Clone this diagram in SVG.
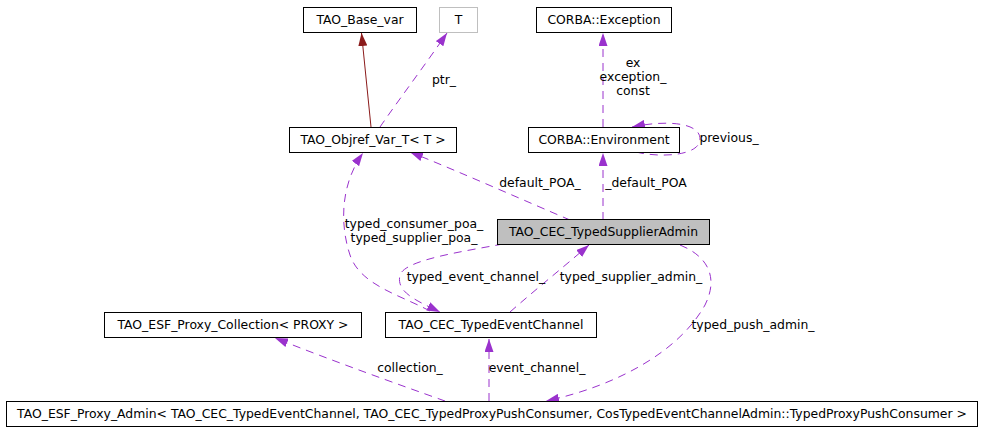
<svg xmlns="http://www.w3.org/2000/svg" width="981" height="432" viewBox="0 0 981 432">
<style>
text{font-family:"DejaVu Sans","Liberation Sans",sans-serif;font-size:12.4px;fill:#000}
.n text{text-anchor:middle}
.box{fill:#fff;stroke:#000;stroke-width:1}
.gray{fill:#bfbfbf}
.lt{stroke:#bfbfbf}
.e{fill:none;stroke:#9a32cd;stroke-width:1;stroke-dasharray:8,6}
.inh{fill:none;stroke:#8b1a1a;stroke-width:1}
.lbl text{text-anchor:middle}
</style>
<defs>
<marker id="ap" markerUnits="userSpaceOnUse" markerWidth="13" markerHeight="9" refX="13" refY="4.5" orient="auto"><path d="M0,0 L13,4.5 L0,9 z" fill="#9a32cd"/></marker>
<marker id="ar" markerUnits="userSpaceOnUse" markerWidth="13" markerHeight="9" refX="13" refY="4.5" orient="auto"><path d="M0,0 L13,4.5 L0,9 z" fill="#8b1a1a"/></marker>
</defs>
<rect width="981" height="432" fill="#fff"/>
<g id="connectors">
<path class="inh" d="M371,127 L361.5,33" marker-end="url(#ar)"/>
<path class="e" d="M380,127 C395,105 425,65 447,33" marker-end="url(#ap)"/>
<path class="e" d="M603,127 L603,33" marker-end="url(#ap)"/>
<path class="e" d="M636,152 C660,158 700,156 700,139 C700,122 665,120 632,127" marker-end="url(#ap)"/>
<path class="e" d="M570,220 C530,203 460,172 410,152" marker-end="url(#ap)"/>
<path class="e" d="M603,220 L603,153" marker-end="url(#ap)"/>
<path class="e" d="M430,311 C400,295 360,285 350,255 C340,225 340,185 363,153" marker-end="url(#ap)"/>
<path class="e" d="M503,244 C460,252 405,260 400,275 C396,292 415,300 440,312" marker-end="url(#ap)"/>
<path class="e" d="M510,312 C535,290 560,270 589,245" marker-end="url(#ap)"/>
<path class="e" d="M680,245 C705,255 720,275 705,305 C680,350 620,385 546,401" marker-end="url(#ap)"/>
<path class="e" d="M445,401 C400,385 330,360 275,338" marker-end="url(#ap)"/>
<path class="e" d="M489,401 L489,339" marker-end="url(#ap)"/>
</g>
<g class="lbl">
<text x="444" y="84">ptr_</text>
<text x="633" y="67">ex</text>
<text x="633" y="81">exception_</text>
<text x="633" y="95">const</text>
<text x="729" y="142">previous_</text>
<text x="540" y="187">default_POA_</text>
<text x="646" y="187">_default_POA</text>
<text x="414" y="228">typed_consumer_poa_</text>
<text x="414" y="242">typed_supplier_poa_</text>
<text x="476" y="281">typed_event_channel_</text>
<text x="631" y="281">typed_supplier_admin_</text>
<text x="753" y="329">typed_push_admin_</text>
<text x="410" y="372">collection_</text>
<text x="537" y="372">event_channel_</text>
</g>
<g id="n_base" class="n"><rect class="box" x="303.5" y="7.5" width="113" height="25"/><text x="360" y="24">TAO_Base_var</text></g>
<g id="n_T" class="n"><rect class="box lt" x="439.5" y="7.5" width="38" height="25"/><text x="458.5" y="24">T</text></g>
<g id="n_exception" class="n"><rect class="box" x="536.5" y="7.5" width="135" height="25"/><text x="604" y="24">CORBA::Exception</text></g>
<g id="n_objref" class="n"><rect class="box" x="289.5" y="127.5" width="167" height="25"/><text x="373" y="144">TAO_Objref_Var_T&lt; T &gt;</text></g>
<g id="n_env" class="n"><rect class="box" x="528.5" y="127.5" width="151" height="25"/><text x="604" y="144">CORBA::Environment</text></g>
<g id="n_supadmin" class="n"><rect class="box gray" x="497.5" y="219.5" width="212" height="25"/><text x="603.5" y="236">TAO_CEC_TypedSupplierAdmin</text></g>
<g id="n_collection" class="n"><rect class="box" x="104.5" y="312.5" width="257" height="25"/><text x="233" y="329">TAO_ESF_Proxy_Collection&lt; PROXY &gt;</text></g>
<g id="n_channel" class="n"><rect class="box" x="385.5" y="312.5" width="211" height="25"/><text x="491" y="329">TAO_CEC_TypedEventChannel</text></g>
<g id="n_proxyadmin" class="n"><rect class="box" x="6.5" y="401.5" width="971" height="25"/><text x="492" y="418">TAO_ESF_Proxy_Admin&lt; TAO_CEC_TypedEventChannel, TAO_CEC_TypedProxyPushConsumer, CosTypedEventChannelAdmin::TypedProxyPushConsumer &gt;</text></g>
</svg>
